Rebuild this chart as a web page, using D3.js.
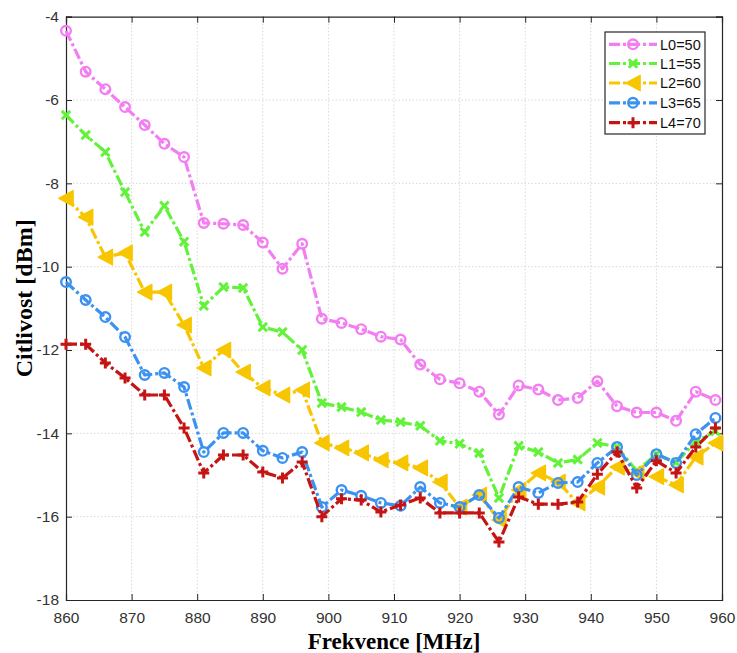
<!DOCTYPE html>
<html>
<head>
<meta charset="utf-8">
<script src="https://cdn.jsdelivr.net/npm/d3@7"></script>
<style>
  html, body { margin: 0; padding: 0; background: #ffffff; }
  svg { display: block; }
</style>
</head>
<body>
<svg id="chart" width="737" height="653"></svg>
<script>
// ---- Data ----
const freq = [860, 863, 866, 869, 872, 875, 878, 881, 884, 887, 890, 893, 896, 899, 902, 905, 908,
              911, 914, 917, 920, 923, 926, 929, 932, 935, 938, 941, 944, 947, 950, 953, 956, 959];

const L0 = [-4.34, -5.32, -5.74, -6.17, -6.6, -7.05, -7.37, -8.95, -8.97, -9.0, -9.42, -10.05, -9.45,
            -11.25, -11.35, -11.5, -11.68, -11.75, -12.35, -12.7, -12.8, -13.0, -13.55, -12.85, -12.95,
            -13.2, -13.15, -12.75, -13.35, -13.5, -13.5, -13.7, -13.0, -13.2];
const L1 = [-6.36, -6.84, -7.25, -8.21, -9.17, -8.54, -9.4, -10.94, -10.49, -10.51, -11.45, -11.57, -12.0,
            -13.27, -13.37, -13.49, -13.68, -13.73, -13.82, -14.18, -14.25, -14.47, -15.55, -14.3, -14.45,
            -14.71, -14.63, -14.23, -14.33, -14.9, -14.5, -14.7, -14.2, -13.95];
const L2 = [-8.36, -8.81, -9.77, -9.67, -10.61, -10.61, -11.4, -12.43, -12.0, -12.53, -12.91, -13.08, -12.96,
            -14.23, -14.35, -14.47, -14.64, -14.71, -14.83, -15.17, -15.77, -15.48, -16.08, -15.36, -14.95,
            -15.17, -15.67, -15.29, -14.81, -14.95, -15.04, -15.24, -14.57, -14.23];
const L3 = [-10.37, -10.8, -11.21, -11.69, -12.6, -12.55, -12.89, -14.45, -13.99, -13.99, -14.42, -14.59, -14.45,
            -15.77, -15.36, -15.5, -15.67, -15.74, -15.29, -15.67, -15.77, -15.48, -16.03, -15.29, -15.43,
            -15.19, -15.17, -14.71, -14.33, -15.0, -14.5, -14.71, -14.02, -13.63];
const L4 = [-11.86, -11.86, -12.31, -12.67, -13.08, -13.08, -13.87, -14.95, -14.52, -14.52, -14.93, -15.07, -14.69,
            -16.0, -15.57, -15.6, -15.89, -15.72, -15.55, -15.91, -15.91, -15.91, -16.61, -15.53, -15.7,
            -15.7, -15.65, -14.98, -14.45, -15.31, -14.66, -14.95, -14.33, -13.87];

const seriesNames = ["L0=50", "L1=55", "L2=60", "L3=65", "L4=70"];
const seriesValues = [L0, L1, L2, L3, L4];
const xTicks = [860, 870, 880, 890, 900, 910, 920, 930, 940, 950, 960];
const yTicks = [-4, -6, -8, -10, -12, -14, -16, -18];
const xLabel = "Frekvence [MHz]";
const yLabel = "Citlivost [dBm]";

// ---- Styles ----
const colors = ["#f27ef2", "#63f23a", "#f7c600", "#3c92f0", "#c41414"];
const markers = ["circle", "x", "triangleLeft", "circle", "plus"];
const dash = "11,3,3,3";

const svg = d3.select("#chart");
const pLeft = 66, pRight = 722, pTop = 16.7, pBottom = 600;

const x = d3.scaleLinear().domain([860, 960]).range([pLeft, pRight]);
const y = d3.scaleLinear().domain([-18, -4]).range([pBottom, pTop]);

const axisColor = "#262626";

// grid
const grid = svg.append("g");
grid.selectAll("line.vg").data(xTicks.slice(1, -1)).enter().append("line")
  .attr("x1", d => x(d)).attr("x2", d => x(d)).attr("y1", pTop).attr("y2", pBottom)
  .attr("stroke", "#d8d8d8").attr("stroke-width", 1).attr("stroke-dasharray", "1.5,2");
grid.selectAll("line.hg").data(yTicks.slice(1, -1)).enter().append("line")
  .attr("x1", pLeft).attr("x2", pRight).attr("y1", d => y(d)).attr("y2", d => y(d))
  .attr("stroke", "#d8d8d8").attr("stroke-width", 1).attr("stroke-dasharray", "1.5,2");

// axes with inward ticks
const tickFont = "'Liberation Sans', Arial, Helvetica, sans-serif";
const axB = svg.append("g").attr("transform", `translate(0,${pBottom})`)
  .call(d3.axisBottom(x).tickValues(xTicks).tickSize(-6).tickPadding(12).tickFormat(d3.format("d")));
const axL = svg.append("g").attr("transform", `translate(${pLeft},0)`)
  .call(d3.axisLeft(y).tickValues(yTicks).tickSize(-6).tickPadding(7).tickFormat(d => String(d)));
const axT = svg.append("g").attr("transform", `translate(0,${pTop})`)
  .call(d3.axisTop(x).tickValues(xTicks).tickSize(-6).tickFormat(""));
const axR = svg.append("g").attr("transform", `translate(${pRight},0)`)
  .call(d3.axisRight(y).tickValues(yTicks).tickSize(-6).tickFormat(""));
[axB, axL, axT, axR].forEach(a => {
  a.select(".domain").attr("stroke", axisColor).attr("stroke-width", 1.2);
  a.selectAll(".tick line").attr("stroke", axisColor);
  a.selectAll("text").attr("font-family", tickFont).attr("font-size", 15.5).attr("fill", "#333");
});

// series
const lineGen = d3.line().x(d => x(d[0])).y(d => y(d[1]));

function drawMarker(g, type, cx, cy, color) {
  if (type === "circle") {
    g.append("circle").attr("cx", cx).attr("cy", cy).attr("r", 4.8)
      .attr("fill", "none").attr("stroke", color).attr("stroke-width", 2.4);
  } else if (type === "x") {
    const s = 4.2;
    g.append("path").attr("d", `M${cx - s},${cy - s}L${cx + s},${cy + s}M${cx - s},${cy + s}L${cx + s},${cy - s}`)
      .attr("stroke", color).attr("stroke-width", 3).attr("fill", "none");
  } else if (type === "plus") {
    const s = 5.5;
    g.append("path").attr("d", `M${cx - s},${cy}L${cx + s},${cy}M${cx},${cy - s}L${cx},${cy + s}`)
      .attr("stroke", color).attr("stroke-width", 3).attr("fill", "none");
  } else if (type === "triangleLeft") {
    const w = 7.2, h = 7.8;
    g.append("path").attr("d", `M${cx - w},${cy}L${cx + w},${cy - h}L${cx + w},${cy + h}Z`)
      .attr("fill", color).attr("stroke", color).attr("stroke-width", 1.2).attr("stroke-linejoin", "round");
  }
}

seriesValues.forEach((vals, i) => {
  const g = svg.append("g");
  const pts = freq.map((f, j) => [f, vals[j]]);
  g.append("path").datum(pts).attr("d", lineGen)
    .attr("fill", "none").attr("stroke", colors[i]).attr("stroke-width", 3.2)
    .attr("stroke-dasharray", dash).attr("stroke-linejoin", "round");
  pts.forEach(p => drawMarker(g, markers[i], x(p[0]), y(p[1]), colors[i]));
});

// legend
const lg = svg.append("g");
lg.append("rect").attr("x", 605).attr("y", 32).attr("width", 100).attr("height", 102)
  .attr("fill", "#ffffff").attr("stroke", axisColor).attr("stroke-width", 1.2);
const legY = [44.3, 63.5, 83, 102.8, 122.7];
seriesNames.forEach((name, i) => {
  const yy = legY[i];
  lg.append("line").attr("x1", 609).attr("x2", 657).attr("y1", yy).attr("y2", yy)
    .attr("stroke", colors[i]).attr("stroke-width", 3.2).attr("stroke-dasharray", dash);
  drawMarker(lg, markers[i], 633, yy, colors[i]);
  lg.append("text").attr("x", 660).attr("y", yy).attr("dy", "0.36em")
    .attr("font-family", tickFont).attr("font-size", 14.5).attr("fill", "#111")
    .text(name);
});

// axis labels
const labelFont = "'Liberation Serif', 'Times New Roman', serif";
svg.append("text").attr("x", (pLeft + pRight) / 2).attr("y", 649)
  .attr("text-anchor", "middle").attr("font-family", labelFont).attr("font-weight", "bold")
  .attr("font-size", 23).attr("fill", "#000").text(xLabel);
svg.append("text").attr("transform", `translate(32,${(pTop + pBottom) / 2 - 10}) rotate(-90)`)
  .attr("text-anchor", "middle").attr("font-family", labelFont).attr("font-weight", "bold")
  .attr("font-size", 24).attr("fill", "#000").text(yLabel);
</script>
</body>
</html>
